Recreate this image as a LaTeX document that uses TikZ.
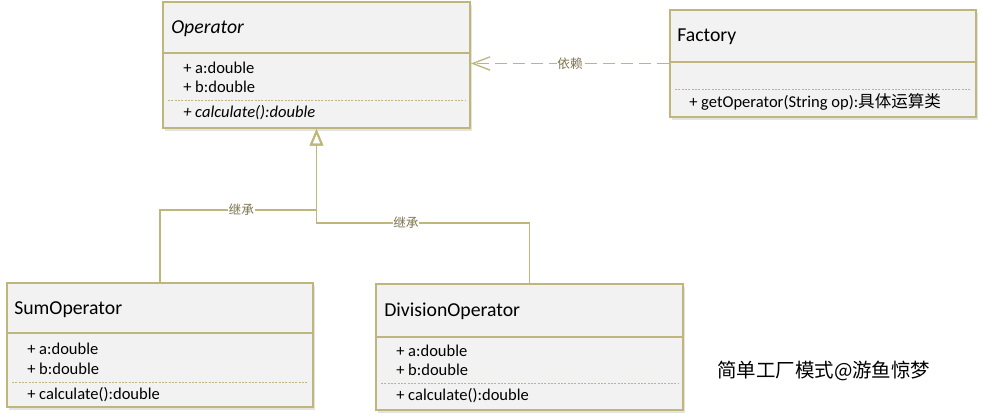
\documentclass[tikz,border=0pt]{standalone}
\usepackage{fontspec}
\setmainfont{Carlito}
\newfontfamily\cjk{Noto Sans CJK SC}
\usetikzlibrary{arrows.meta,shadows}
\definecolor{umlline}{RGB}{190,182,122}
\definecolor{umlfill}{RGB}{242,242,242}
\definecolor{umllabel}{RGB}{125,116,78}
\providecommand{\umlBorderWidth}{1.4pt}
\providecommand{\umlSepWidth}{0.7pt}
\def\pxsz{0.75pt}
\begin{document}
\begin{tikzpicture}[x=\pxsz, y=-\pxsz,
  classbox/.style={draw=umlline, fill=umlfill, line width=\umlBorderWidth, inner sep=0pt,
    drop shadow={shadow xshift=1.2pt, shadow yshift=-2pt, opacity=0.22}},
  headline/.style={draw=umlline, line width=\umlBorderWidth},
  sepline/.style={draw=umlline, line width=\umlSepWidth, dash pattern=on 1.5pt off 1pt},
  classname/.style={anchor=base west, inner sep=0pt, font=\fontsize{14.8}{17}\selectfont},
  member/.style={anchor=base west, inner sep=0pt, font=\fontsize{12.4}{14}\selectfont},
  edgelabel/.style={fill=white, inner sep=0.5pt, text=umllabel, font=\cjk\fontsize{9.5}{11}\selectfont},
  genline/.style={draw=umlline, line width=\umlBorderWidth, -{Triangle[open, length=12.5pt, width=10pt]}},
  depline/.style={draw=umlline, line width=\umlBorderWidth, dash pattern=on 9pt off 4.5pt,
    -{Straight Barb[length=13pt, width=10pt, line width=1pt]}}]
\useasboundingbox (0,0) rectangle (984,420);
% Class frames
\node[classbox, minimum width=307*\pxsz, minimum height=126*\pxsz] (op) at (316.5,65) {};
\node[classbox, minimum width=306*\pxsz, minimum height=107*\pxsz] (fac) at (823,63.5) {};
\node[classbox, minimum width=306*\pxsz, minimum height=124*\pxsz] (sum) at (160,345) {};
\node[classbox, minimum width=307*\pxsz, minimum height=126*\pxsz] (div) at (529.5,347) {};
% Header lines
\draw[headline] (op.west |- 0,53) -- (op.east |- 0,53);
\draw[headline] (fac.west |- 0,62) -- (fac.east |- 0,62);
\draw[headline] (sum.west |- 0,333) -- (sum.east |- 0,333);
\draw[headline] (div.west |- 0,337) -- (div.east |- 0,337);
% Attribute / operation separators
\draw[sepline] (168,100) -- (465,100);
\draw[sepline] (675,89) -- (971,89);
\draw[sepline] (12,382) -- (308,382);
\draw[sepline] (381,383) -- (678,383);
% Operator
\node[classname] (opname) at (171,34) {\textit{Operator}};
\node[member] (opa) at (183,74) {+ a:double};
\node[member] (opb) at (183,93) {+ b:double};
\node[member] (opcalc) at (183,118) {\textit{+ calculate():double}};
% Factory
\node[classname] (facname) at (677,42) {Factory};
\node[member] (facget) at (689,108) {+ getOperator(String op):{\cjk 具体运算类}};
% SumOperator
\node[classname] (sumname) at (14,314) {SumOperator};
\node[member] (suma) at (27,354) {+ a:double};
\node[member] (sumb) at (27,374) {+ b:double};
\node[member] (sumcalc) at (27,399) {+ calculate():double};
% DivisionOperator
\node[classname] (divname) at (384,316) {DivisionOperator};
\node[member] (diva) at (396,356) {+ a:double};
\node[member] (divb) at (396,375) {+ b:double};
\node[member] (divcalc) at (396,400) {+ calculate():double};
% Connectors
\coordinate (jsum) at (316.5,210);
\coordinate (jdiv) at (316.5,223);
\draw[genline] (sum.north) |- node[edgelabel, pos=0.76] {继承} (jsum) -- (op.south);
\draw[genline] (div.north) |- node[edgelabel, pos=0.79] {继承} (jdiv) -- (op.south);
\draw[depline] (fac.west) -- node[edgelabel] {依赖} (fac.west -| op.east);
% Caption
\node[anchor=base west, inner sep=0pt, font=\cjk\fontsize{14.6}{17}\selectfont] (caption) at (717,377) {简单工厂模式@游鱼惊梦};
\end{tikzpicture}
\end{document}
